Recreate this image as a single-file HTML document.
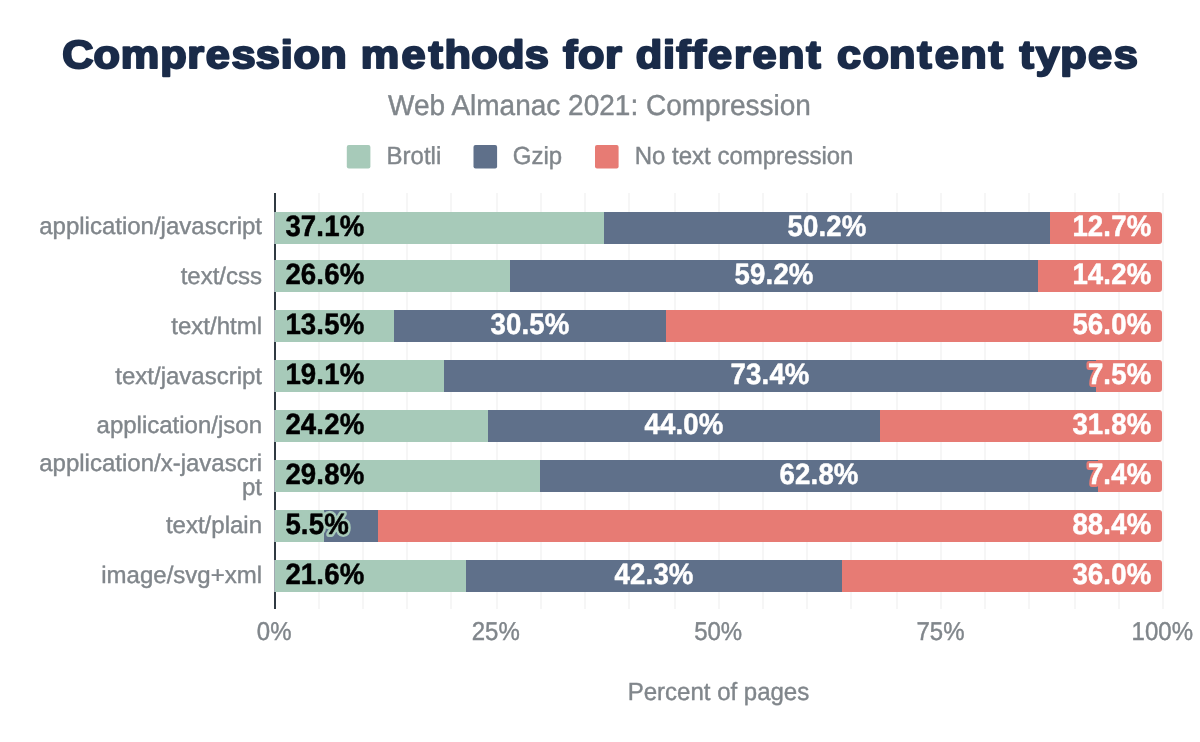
<!DOCTYPE html>
<html lang="en">
<head>
<meta charset="utf-8">
<title>Compression methods for different content types</title>
<style>
html,body{margin:0;padding:0;background:#fff;}
body{width:1200px;height:742px;overflow:hidden;}
svg{display:block;}
text{font-family:"Liberation Sans",Arial,Helvetica,sans-serif;text-rendering:geometricPrecision;}
.t{font-weight:bold;font-size:39.4px;fill:#1a2b49;stroke:#1a2b49;stroke-width:2.1;stroke-linejoin:round;}
.s{font-size:28px;fill:#80868b;stroke:#80868b;stroke-width:0.4;}
.l{font-size:24px;fill:#80868b;stroke:#80868b;stroke-width:0.4;}
.d text{font-size:28px;font-weight:bold;letter-spacing:0.15px;}
.d{stroke-linejoin:round;stroke-width:0.5;}
.k{fill:#000;stroke:#000;}
.w{fill:#fff;stroke:#fff;}
.hg{fill:#a7cab9;stroke:#a7cab9;stroke-width:5.5;}
.hr{fill:#e77b74;stroke:#e77b74;stroke-width:5.5;}
.m{text-anchor:middle;}
.e{text-anchor:end;}
</style>
</head>
<body>
<svg width="1200" height="742" viewBox="0 0 1200 742" role="img" aria-label="Compression methods for different content types">
<rect width="1200" height="742" fill="#fff"/>
<text class="t" transform="scale(1.1,1)" y="68.3" x="56.558 85.018 109.85 145.636 170.209 187.12 210.356 232.574 255.214 266.836 291.091 315.832 328.032 364.901 389.494 404.218 428.472 452.727 477.047 499.687 511.731 525.454 550.028 566.342 577.963 602.705 614.749 628.894 643.701 667.191 684.101 707.272 732.949 748.16 760.865 784.036 808.291 833.967 849.774 872.945 898.622 913.832 926.876 941.665 963.818 989.156 1012.392">Compression methods for different content types</text>
<text class="s" transform="scale(1,1.03)" x="599.5" y="111.65" text-anchor="middle">Web Almanac 2021: Compression</text>
<g>
<rect x="346.8" y="145" width="23.6" height="23.6" rx="2" fill="#a7cab9"/>
<text class="l" transform="scale(1,1.03)" x="386.6" y="159.417">Brotli</text>
<rect x="473.5" y="145" width="23.6" height="23.6" rx="2" fill="#5f708a"/>
<text class="l" transform="scale(1,1.03)" x="512.8" y="159.417">Gzip</text>
<rect x="595" y="145" width="23.6" height="23.6" rx="2" fill="#e77b74"/>
<text class="l" transform="scale(1,1.03)" x="634.7" y="159.417">No text compression</text>
</g>
<g fill="#f6f6f6">
<rect x="318" y="193" width="2" height="416"/>
<rect x="362" y="193" width="2" height="416"/>
<rect x="406" y="193" width="2" height="416"/>
<rect x="450" y="193" width="2" height="416"/>
<rect x="496" y="193" width="2" height="416"/>
<rect x="540" y="193" width="2" height="416"/>
<rect x="584" y="193" width="2" height="416"/>
<rect x="628" y="193" width="2" height="416"/>
<rect x="674" y="193" width="2" height="416"/>
<rect x="718" y="193" width="2" height="416"/>
<rect x="762" y="193" width="2" height="416"/>
<rect x="806" y="193" width="2" height="416"/>
<rect x="850" y="193" width="2" height="416"/>
<rect x="896" y="193" width="2" height="416"/>
<rect x="940" y="193" width="2" height="416"/>
<rect x="984" y="193" width="2" height="416"/>
<rect x="1028" y="193" width="2" height="416"/>
<rect x="1074" y="193" width="2" height="416"/>
<rect x="1118" y="193" width="2" height="416"/>
<rect x="1162" y="193" width="2" height="416"/>
</g>
<rect x="274" y="193" width="2" height="416" fill="#303a42"/>
<g>
<rect x="274" y="212" width="1" height="32" fill="#a1a8b1"/>
<rect x="275" y="212" width="329" height="32" fill="#a7cab9"/>
<rect x="604" y="212" width="446" height="32" fill="#5f708a"/>
<path d="M1050 212H1159a3 3 0 0 1 3 3V241a3 3 0 0 1 -3 3H1050Z" fill="#e77b74"/>
<rect x="274" y="260" width="1" height="32" fill="#a1a8b1"/>
<rect x="275" y="260" width="235" height="32" fill="#a7cab9"/>
<rect x="510" y="260" width="528" height="32" fill="#5f708a"/>
<path d="M1038 260H1159a3 3 0 0 1 3 3V289a3 3 0 0 1 -3 3H1038Z" fill="#e77b74"/>
<rect x="274" y="310" width="1" height="32" fill="#a1a8b1"/>
<rect x="275" y="310" width="119" height="32" fill="#a7cab9"/>
<rect x="394" y="310" width="272" height="32" fill="#5f708a"/>
<path d="M666 310H1159a3 3 0 0 1 3 3V339a3 3 0 0 1 -3 3H666Z" fill="#e77b74"/>
<rect x="274" y="360" width="1" height="32" fill="#a1a8b1"/>
<rect x="275" y="360" width="169" height="32" fill="#a7cab9"/>
<rect x="444" y="360" width="652" height="32" fill="#5f708a"/>
<path d="M1096 360H1159a3 3 0 0 1 3 3V389a3 3 0 0 1 -3 3H1096Z" fill="#e77b74"/>
<rect x="274" y="410" width="1" height="32" fill="#a1a8b1"/>
<rect x="275" y="410" width="213" height="32" fill="#a7cab9"/>
<rect x="488" y="410" width="392" height="32" fill="#5f708a"/>
<path d="M880 410H1159a3 3 0 0 1 3 3V439a3 3 0 0 1 -3 3H880Z" fill="#e77b74"/>
<rect x="274" y="460" width="1" height="32" fill="#a1a8b1"/>
<rect x="275" y="460" width="265" height="32" fill="#a7cab9"/>
<rect x="540" y="460" width="558" height="32" fill="#5f708a"/>
<path d="M1098 460H1159a3 3 0 0 1 3 3V489a3 3 0 0 1 -3 3H1098Z" fill="#e77b74"/>
<rect x="274" y="510" width="1" height="32" fill="#a1a8b1"/>
<rect x="275" y="510" width="49" height="32" fill="#a7cab9"/>
<rect x="324" y="510" width="54" height="32" fill="#5f708a"/>
<path d="M378 510H1159a3 3 0 0 1 3 3V539a3 3 0 0 1 -3 3H378Z" fill="#e77b74"/>
<rect x="274" y="560" width="1" height="32" fill="#a1a8b1"/>
<rect x="275" y="560" width="191" height="32" fill="#a7cab9"/>
<rect x="466" y="560" width="376" height="32" fill="#5f708a"/>
<path d="M842 560H1159a3 3 0 0 1 3 3V589a3 3 0 0 1 -3 3H842Z" fill="#e77b74"/>
</g>
<g class="d" transform="scale(0.985,1.05)">
<g>
<use class="hr" href="#r3"/>
<use class="hr" href="#r5"/>
<use class="hg" href="#g6"/>
</g>
<g class="k">
<text x="289.746" y="224.762">37.1%</text>
<text x="289.746" y="270.476">26.6%</text>
<text x="289.746" y="318.095">13.5%</text>
<text x="289.746" y="365.714">19.1%</text>
<text x="289.746" y="413.333">24.2%</text>
<text x="289.746" y="460.952">29.8%</text>
<text id="g6" x="289.746" y="508.571">5.5%</text>
<text x="289.746" y="556.19">21.6%</text>
</g>
<g class="w">
<text class="m" x="839.669" y="224.762">50.2%</text>
<text class="e" x="1168.881" y="224.762">12.7%</text>
<text class="m" x="785.862" y="270.476">59.2%</text>
<text class="e" x="1168.881" y="270.476">14.2%</text>
<text class="m" x="538.146" y="318.095">30.5%</text>
<text class="e" x="1168.881" y="318.095">56.0%</text>
<text class="m" x="781.801" y="365.714">73.4%</text>
<text id="r3" class="e" x="1168.881" y="365.714">7.5%</text>
<text class="m" x="694.491" y="413.333">44.0%</text>
<text class="e" x="1168.881" y="413.333">31.8%</text>
<text class="m" x="831.547" y="460.952">62.8%</text>
<text id="r5" class="e" x="1168.881" y="460.952">7.4%</text>
<text class="e" x="1168.881" y="508.571">88.4%</text>
<text class="m" x="664.034" y="556.19">42.3%</text>
<text class="e" x="1168.881" y="556.19">36.0%</text>
</g>
</g>
<g text-anchor="end" transform="scale(1,1)">
<text class="l" x="262" y="233.7">application/javascript</text>
<text class="l" x="262" y="284.15">text/css</text>
<text class="l" x="262" y="333.92">text/html</text>
<text class="l" x="262" y="383.69">text/javascript</text>
<text class="l" x="262" y="433.46">application/json</text>
<text class="l"><tspan x="262" y="471.3">application/x-javascri</tspan><tspan x="262" y="495">pt</tspan></text>
<text class="l" x="262" y="533">text/plain</text>
<text class="l" x="262" y="582.77">image/svg+xml</text>
</g>
<g text-anchor="middle" transform="scale(1,1.075)">
<text class="l" x="274.2" y="595.535">0%</text>
<text class="l" x="495.75" y="595.535">25%</text>
<text class="l" x="718.2" y="595.535">50%</text>
<text class="l" x="940.55" y="595.535">75%</text>
<text class="l" x="1162.3" y="595.535">100%</text>
</g>
<text class="l" transform="scale(1,1.035)" text-anchor="middle" x="718.5" y="676.135">Percent of pages</text>
</svg>
</body>
</html>
